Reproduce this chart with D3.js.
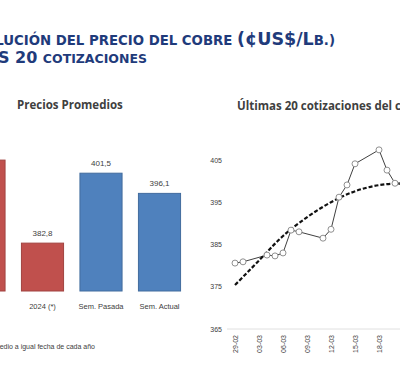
<!DOCTYPE html>
<html>
<head>
<meta charset="utf-8">
<style>
  body { margin: 0; background: white; }
  svg { font-family: 'DejaVu Sans', sans-serif; display: block; }
  .title { fill: #1f3b7b; font-weight: bold; }
  .panel-title { fill: #404040; font-family: 'Open Sans', sans-serif; font-weight: bold; font-size: 11.5px; }
  .lbl { fill: #404040; font-family: 'Liberation Sans', sans-serif; font-size: 8px; }
</style>
</head>
<body>
<div id="chart"></div>
<script src="https://d3js.org/d3.v7.min.js"></script>
<script>
// bar panel: average prices
var barCategories = ["2023 (*)", "2024 (*)", "Sem. Pasada", "Sem. Actual"];
var barValues = [405.0, 382.8, 401.5, 396.1];
var barLabels = ["405,0", "382,8", "401,5", "396,1"];
var barColors = ["#c0504d", "#c0504d", "#4f81bd", "#4f81bd"];

// line panel: last 20 quotes
var quoteDates = ["29-02", "01-03", "04-03", "05-03", "06-03", "07-03", "08-03", "11-03", "12-03", "13-03",
                  "14-03", "15-03", "18-03", "19-03", "20-03", "21-03", "22-03", "25-03", "26-03", "27-03"];
var quoteValues = [380.6, 380.9, 382.5, 382.3, 383.0, 388.4, 388.0, 386.5, 388.6, 396.2,
                   399.1, 404.1, 407.4, 402.6, 399.5, 399.5, 398.5, 396.0, 397.3, 395.0];
var trendDates = ["29-02", "04-03", "07-03", "13-03", "20-03", "27-03"];
var trendValues = [375.4, 383.2, 388.6, 396.0, 399.4, 397.6];
var axisDates = ["29-02", "03-03", "06-03", "09-03", "12-03", "15-03", "18-03", "21-03", "24-03", "27-03"];
var yTicks = [365, 375, 385, 395, 405];

var W = 400, H = 384;
var svg = d3.select("#chart").append("svg").attr("width", W).attr("height", H);

// title (cropped on the left like the source)
var t1 = svg.append("text").attr("class", "title").attr("x", 335).attr("y", 45).attr("text-anchor", "end");
t1.append("tspan").style("font-size", "13.3px").text("EVOLUCIÓN DEL PRECIO DEL COBRE ");
t1.append("tspan").style("font-size", "17.5px").text("(¢US$/");
t1.append("tspan").style("font-size", "17.5px").text("L");
t1.append("tspan").style("font-size", "13.3px").text("B.)");

var t2 = svg.append("text").attr("class", "title").attr("x", 147).attr("y", 63).attr("text-anchor", "end");
t2.append("tspan").style("font-size", "16px").text("ÚLTIMAS 20 ");
t2.append("tspan").style("font-size", "12.5px").text("COTIZACIONES");

// ---- bar chart
svg.append("text").attr("class", "panel-title").attr("x", 17).attr("y", 109).text("Precios Promedios");

var xb = d3.scaleBand().domain(barCategories).range([-45.25, 188.75]).paddingInner(0.28).paddingOuter(0.14);
var yb = d3.scaleLinear().domain([370, 410]).range([291, 141.4]);

svg.selectAll(".bar").data(barCategories).enter().append("rect")
  .attr("class", "bar")
  .attr("x", function(d) { return xb(d); })
  .attr("y", function(d, i) { return yb(barValues[i]); })
  .attr("width", xb.bandwidth())
  .attr("height", function(d, i) { return yb(370) - yb(barValues[i]); })
  .attr("fill", function(d, i) { return barColors[i]; })
  .attr("stroke", function(d, i) { return d3.color(barColors[i]).darker(0.5); })
  .attr("stroke-width", 1);

svg.selectAll(".blbl").data(barCategories).enter().append("text")
  .attr("class", "lbl")
  .attr("x", function(d) { return xb(d) + xb.bandwidth() / 2; })
  .attr("y", function(d, i) { return yb(barValues[i]) - 7; })
  .attr("text-anchor", "middle")
  .text(function(d, i) { return barLabels[i]; });

svg.selectAll(".bcat").data(barCategories).enter().append("text")
  .attr("class", "lbl")
  .style("font-size", "7.5px")
  .attr("x", function(d) { return xb(d) + xb.bandwidth() / 2; })
  .attr("y", 309)
  .attr("text-anchor", "middle")
  .text(function(d) { return d; });

svg.append("text").attr("class", "lbl").style("font-size", "7px")
  .attr("x", 95).attr("y", 349).attr("text-anchor", "end")
  .text("(*) Promedio a igual fecha de cada año");

// ---- line chart
svg.append("text").attr("class", "panel-title").attr("x", 237).attr("y", 110)
  .text("Últimas 20 cotizaciones del cobre");

var parse = function(s) { return new Date(2024, +s.slice(3, 5) - 1, +s.slice(0, 2)); };
var xl = d3.scaleTime().domain([parse("29-02"), parse("27-03")]).range([235, 235 + 27 * 8]);
var yl = d3.scaleLinear().domain([365, 405]).range([329, 160]);

svg.append("line").attr("x1", 227).attr("x2", W).attr("y1", yl(365)).attr("y2", yl(365))
  .attr("stroke", "#e0e0e0").attr("stroke-width", 1);

svg.selectAll(".ytk").data(yTicks).enter().append("text")
  .attr("class", "lbl").style("font-size", "7px")
  .attr("x", 222).attr("y", function(d) { return yl(d) + 2.5; })
  .attr("text-anchor", "end")
  .text(function(d) { return d; });

svg.selectAll(".xtk").data(axisDates).enter().append("text")
  .attr("class", "lbl").style("font-size", "7px")
  .attr("transform", function(d) { return "translate(" + (xl(parse(d)) + 2.5) + ",335) rotate(-90)"; })
  .attr("text-anchor", "end")
  .text(function(d) { return d; });

var pts = quoteDates.map(function(d, i) { return { date: parse(d), v: quoteValues[i] }; });
svg.append("path").datum(pts)
  .attr("fill", "none").attr("stroke", "#404040").attr("stroke-width", 1)
  .attr("d", d3.line().x(function(d) { return xl(d.date); }).y(function(d) { return yl(d.v); }));

var tr = trendDates.map(function(d, i) { return { date: parse(d), v: trendValues[i] }; });
svg.append("path").datum(tr)
  .attr("fill", "none").attr("stroke", "#111").attr("stroke-width", 2.2)
  .attr("stroke-dasharray", "4,2")
  .attr("d", d3.line().curve(d3.curveNatural).x(function(d) { return xl(d.date); }).y(function(d) { return yl(d.v); }));

svg.selectAll(".pt").data(pts).enter().append("circle")
  .attr("cx", function(d) { return xl(d.date); })
  .attr("cy", function(d) { return yl(d.v); })
  .attr("r", 3)
  .attr("fill", "white").attr("stroke", "#909090").attr("stroke-width", 1);
</script>
</body>
</html>
